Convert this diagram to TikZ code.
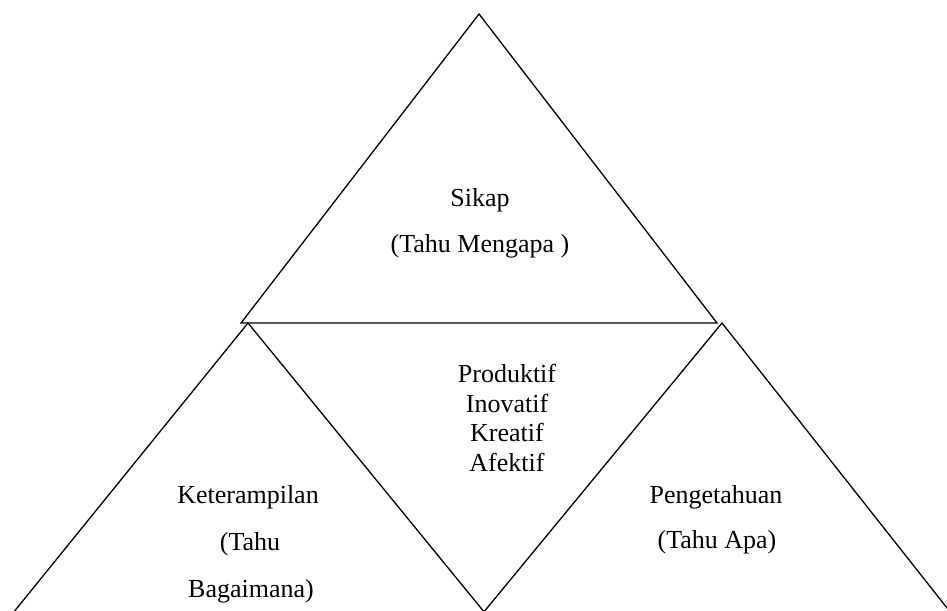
\documentclass[tikz,border=0pt]{standalone}
\usepackage{fontspec}
\setmainfont{Liberation Serif}
\begin{document}
\begin{tikzpicture}[x=1pt,y=-1pt,
  edge/.style={line width=1.3pt, line join=miter},
  lbl/.style={anchor=base, inner sep=0pt, font=\fontsize{26}{30}\selectfont}]
\useasboundingbox (0,0) rectangle (947,610);
\clip (0,0) rectangle (947,610);
% top triangle
\coordinate (ta) at (479,14);
\coordinate (tl) at (241,323);
\coordinate (tr) at (717,323);
\draw[edge] (ta) -- (tl) -- (tr) -- cycle;
% bottom-left triangle
\coordinate (la) at (248,323);
\coordinate (ll) at (13,613);
\coordinate (lr) at (485,613);
\draw[edge] (ll) -- (la) -- (lr);
% bottom-right triangle
\coordinate (ra) at (722,323);
\coordinate (rl) at (483,613);
\coordinate (rr) at (951,613);
\draw[edge] (rl) -- (ra) -- (rr);
% texts
\node[lbl] (sikap) at (480,206) {Sikap};
\node[lbl] (mengapa) at (480,252) {(Tahu Mengapa )};
\node[lbl] (prod) at (507,382) {Produktif};
\node[lbl] (inov) at (507,412) {Inovatif};
\node[lbl] (krea) at (507,441) {Kreatif};
\node[lbl] (afek) at (507,471) {Afektif};
\node[lbl] (ket) at (248,503) {Keterampilan};
\node[lbl] (tahu1) at (250,550) {(Tahu};
\node[lbl] (bag) at (251,597) {Bagaimana)};
\node[lbl] (peng) at (716,503) {Pengetahuan};
\node[lbl] (apa) at (717,548) {(Tahu Apa)};
\end{tikzpicture}
\end{document}
